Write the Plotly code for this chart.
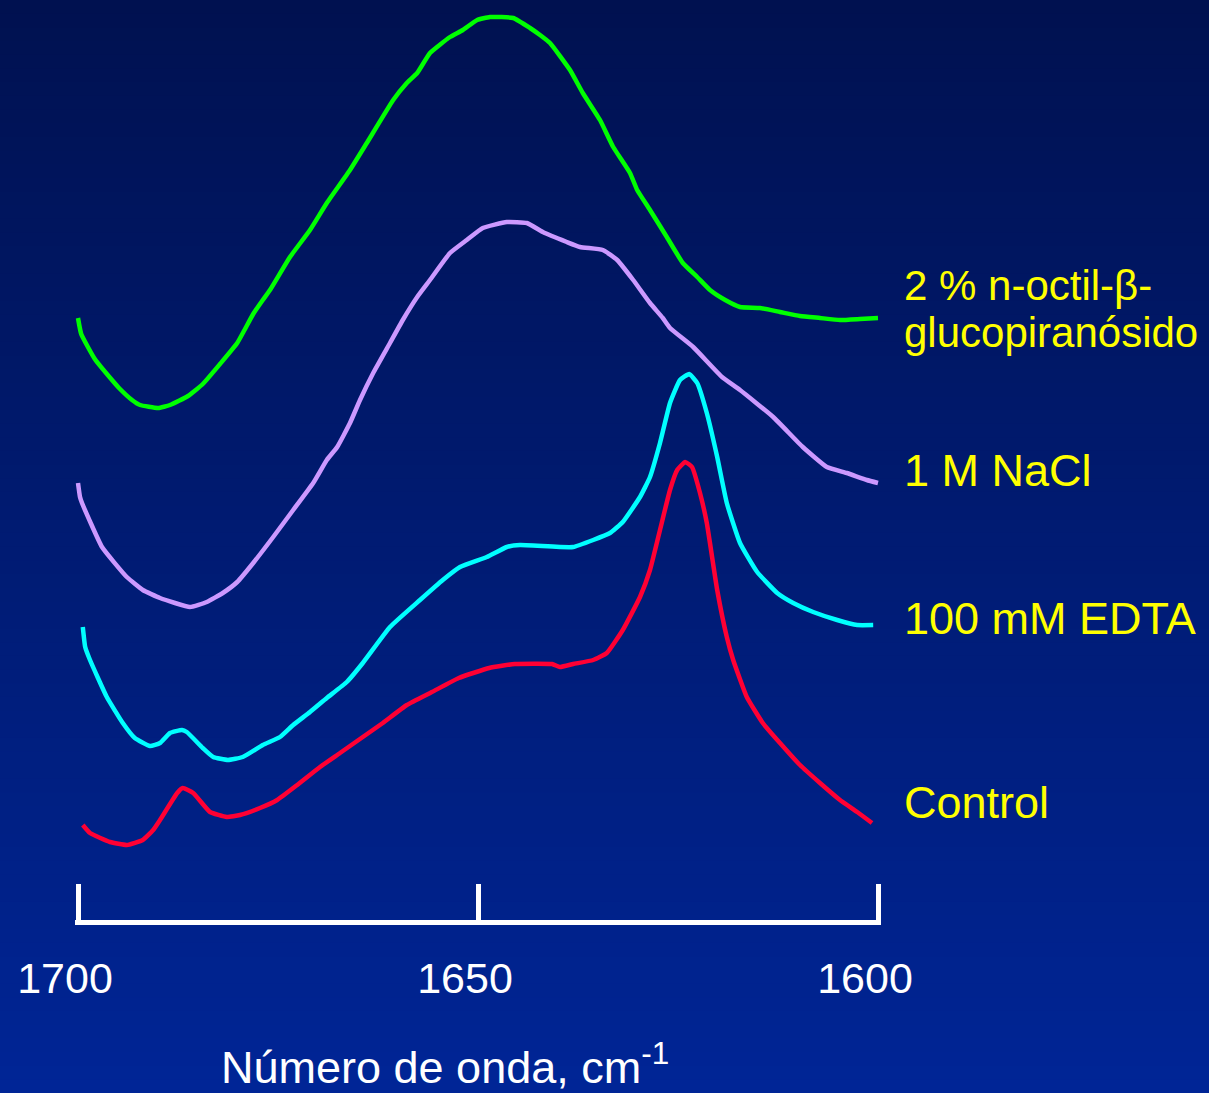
import plotly.graph_objects as go

# ---------------- data (wavenumber cm-1, absorbance a.u., offset stacked) -------------
wn_control = [1699.4, 1698.5, 1696.0, 1693.9, 1691.9, 1690.6, 1689.75, 1687.6, 1686.9, 1685.6,
              1683.5, 1681.4, 1679.75, 1677.25, 1675.1, 1672.6, 1669.75, 1667.25, 1664.4, 1661.9,
              1658.9, 1655.75, 1652.4, 1648.6, 1645.4, 1640.75, 1639.75, 1638.1, 1635.6, 1633.9,
              1631.9, 1629.75, 1628.5, 1627.25, 1626.0, 1625.1, 1624.1, 1623.25, 1622.25, 1621.4,
              1620.1, 1618.9, 1618.1, 1616.4, 1614.4, 1612.25, 1609.75, 1607.25, 1604.75, 1602.6,
              1600.75]
abs_control = [0.95, 0.87, 0.78, 0.75, 0.80, 0.90, 1.00, 1.27, 1.32, 1.27,
               1.08, 1.03, 1.05, 1.12, 1.20, 1.35, 1.53, 1.67, 1.83, 1.97,
               2.15, 2.28, 2.42, 2.52, 2.56, 2.56, 2.53, 2.56, 2.60, 2.67,
               2.90, 3.23, 3.50, 3.90, 4.30, 4.50, 4.58, 4.53, 4.27, 3.97,
               3.30, 2.83, 2.60, 2.23, 1.97, 1.77, 1.55, 1.37, 1.20, 1.08,
               0.97]

wn_edta = [1699.4, 1699.1, 1698.5, 1696.4, 1694.4, 1692.9, 1691.0, 1689.75, 1688.5, 1687.0,
           1686.4, 1684.4, 1683.1, 1681.25, 1679.4, 1676.9, 1674.75, 1673.1, 1671.0, 1668.9,
           1666.4, 1664.4, 1661.0, 1657.25, 1654.4, 1652.25, 1648.9, 1646.4, 1644.75, 1639.75,
           1638.1, 1635.6, 1633.5, 1631.9, 1629.75, 1628.5, 1627.25, 1626.0, 1624.75, 1623.6,
           1622.6, 1621.4, 1620.1, 1618.9, 1617.25, 1615.1, 1612.6, 1610.6, 1608.1, 1605.1,
           1602.6, 1600.6]
abs_edta = [2.93, 2.73, 2.60, 2.23, 1.97, 1.82, 1.74, 1.77, 1.87, 1.90,
            1.88, 1.72, 1.63, 1.60, 1.63, 1.75, 1.83, 1.95, 2.08, 2.22,
            2.38, 2.57, 2.93, 3.20, 3.40, 3.53, 3.63, 3.73, 3.75, 3.73,
            3.73, 3.80, 3.87, 3.98, 4.23, 4.43, 4.77, 5.17, 5.40, 5.46,
            5.37, 5.07, 4.63, 4.17, 3.77, 3.48, 3.27, 3.17, 3.08, 3.00,
            2.95, 2.95]

wn_nacl = [1700.0, 1699.75, 1699.5, 1697.0, 1693.9, 1691.9, 1689.75, 1686.0, 1683.9, 1681.9,
           1680.1, 1678.1, 1675.6, 1673.1, 1670.6, 1668.9, 1667.6, 1666.0, 1664.75, 1663.1,
           1661.0, 1659.4, 1657.6, 1656.0, 1653.5, 1651.4, 1649.4, 1646.4, 1643.9, 1641.9,
           1638.9, 1637.25, 1634.4, 1632.6, 1630.6, 1628.5, 1626.9, 1626.0, 1623.1, 1619.5,
           1617.25, 1613.1, 1609.4, 1606.4, 1603.9, 1601.4, 1600.0]
abs_nacl = [4.37, 4.23, 4.17, 3.73, 3.43, 3.30, 3.22, 3.13, 3.18, 3.27,
            3.38, 3.57, 3.83, 4.10, 4.37, 4.60, 4.73, 4.97, 5.20, 5.47,
            5.77, 6.00, 6.23, 6.40, 6.67, 6.80, 6.92, 6.98, 6.97, 6.88,
            6.78, 6.73, 6.70, 6.60, 6.40, 6.17, 6.02, 5.92, 5.73, 5.43,
            5.30, 5.03, 4.73, 4.53, 4.47, 4.40, 4.37]

wn_octil = [1700.0, 1699.6, 1697.9, 1695.75, 1694.75, 1693.25, 1692.25, 1690.0, 1688.5, 1686.25,
            1684.4, 1682.25, 1680.1, 1678.1, 1676.9, 1676.0, 1673.5, 1671.0, 1668.9, 1666.0,
            1663.9, 1660.6, 1658.9, 1657.6, 1656.0, 1653.5, 1651.9, 1650.1, 1648.5, 1645.6,
            1643.5, 1642.25, 1641.0, 1638.5, 1636.9, 1634.75, 1633.1, 1631.0, 1630.1, 1628.5,
            1626.4, 1624.4, 1622.6, 1621.0, 1619.1, 1617.25, 1614.75, 1612.25, 1609.75, 1607.25,
            1604.75, 1602.25, 1600.0]
abs_octil = [6.02, 5.86, 5.61, 5.40, 5.31, 5.20, 5.15, 5.12, 5.15, 5.24,
             5.36, 5.56, 5.77, 6.06, 6.20, 6.30, 6.63, 6.90, 7.17, 7.50,
             7.77, 8.20, 8.37, 8.47, 8.67, 8.83, 8.90, 9.00, 9.03, 9.02,
             8.92, 8.85, 8.77, 8.50, 8.27, 8.00, 7.73, 7.47, 7.30, 7.10,
             6.83, 6.57, 6.43, 6.30, 6.20, 6.13, 6.12, 6.08, 6.04, 6.02,
             6.00, 6.01, 6.02]

series_names = ["Control", "100 mM EDTA", "1 M NaCl", "2 % n-octil-β-glucopiranósido"]
label_lines = [["Control"], ["100 mM EDTA"], ["1 M NaCl"], ["2 % n-octil-β-", "glucopiranósido"]]
tick_vals = [1700, 1650, 1600]
tick_text = ["1700", "1650", "1600"]
x_title = "Número de onda, cm<sup>-1</sup>"

# ---------------- styling -------------
W, H = 1209, 1093
colors = ["#FF0033", "#00FFFF", "#CC99FF", "#00FF00"]
FONT = "Liberation Sans, Arial, sans-serif"
PX_PER_UNIT = 8.0          # horizontal scale of the x axis
PAD = 0.35                 # small range padding so that end ticks are drawn
X_LEFT, X_RIGHT = 78, 878  # pixel positions of 1700 and 1600

fig = go.Figure()
xs = [wn_control, wn_edta, wn_nacl, wn_octil]
ys = [abs_control, abs_edta, abs_nacl, abs_octil]
for name, x, y, c in zip(series_names, xs, ys, colors):
    fig.add_trace(go.Scatter(x=x, y=y, mode="lines", name=name,
                             line=dict(color=c, width=4.5, shape="spline", smoothing=0.4),
                             hoverinfo="skip", cliponaxis=False))

# vertical gradient background
top = (0, 17, 80)
bot = (0, 37, 150)
n = 80
shapes = []
for i in range(n):
    t = (i + 0.5) / n
    col = tuple(round(top[k] + (bot[k] - top[k]) * t) for k in range(3))
    shapes.append(dict(type="rect", xref="paper", yref="paper",
                       x0=0, x1=1, y0=1 - (i + 1) / n - 0.002, y1=1 - i / n,
                       fillcolor="rgb(%d,%d,%d)" % col, line=dict(width=0), layer="below"))

# right-hand labels (yellow), y positions in data units of the trace offsets
label_pos = [[1.18], [3.02], [4.50], [6.35, 5.88]]
label_sizes = [45, 45, 45, 42]
annotations = []
for lines, ys_, fs in zip(label_lines, label_pos, label_sizes):
    for txt, yv in zip(lines, ys_):
        annotations.append(dict(text=txt, xref="paper", yref="y", x=902 / W, y=yv,
                                xanchor="left", yanchor="middle", showarrow=False,
                                font=dict(family=FONT, size=fs, color="#FFFF00")))
annotations.append(dict(text=x_title, xref="paper", yref="paper", x=445 / W, y=1 - 1064 / H,
                        xanchor="center", yanchor="middle", showarrow=False,
                        font=dict(family=FONT, size=45, color="white")))

pad_px = PAD * PX_PER_UNIT
fig.update_layout(
    width=W, height=H,
    margin=dict(l=0, r=0, t=0, b=0, autoexpand=False),
    paper_bgcolor="rgb(0,27,115)",
    plot_bgcolor="rgba(0,0,0,0)",
    showlegend=False,
    shapes=shapes,
    annotations=annotations,
    xaxis=dict(domain=[(X_LEFT - pad_px) / W, (X_RIGHT + pad_px) / W],
               range=[1700 + PAD, 1600 - PAD], autorange=False, automargin=False,
               showgrid=False, zeroline=False,
               showline=True, linecolor="white", linewidth=5,
               ticks="inside", ticklen=36, tickwidth=5, tickcolor="white",
               tickvals=tick_vals, ticktext=tick_text,
               tickfont=dict(family=FONT, size=43, color="white"),
               ticklabelstandoff=16, ticklabelshift=13),
    yaxis=dict(domain=[1 - 920 / H, 1], range=[0, 9.20], autorange=False,
               visible=False, automargin=False),
)

fig.write_html("out.html")
